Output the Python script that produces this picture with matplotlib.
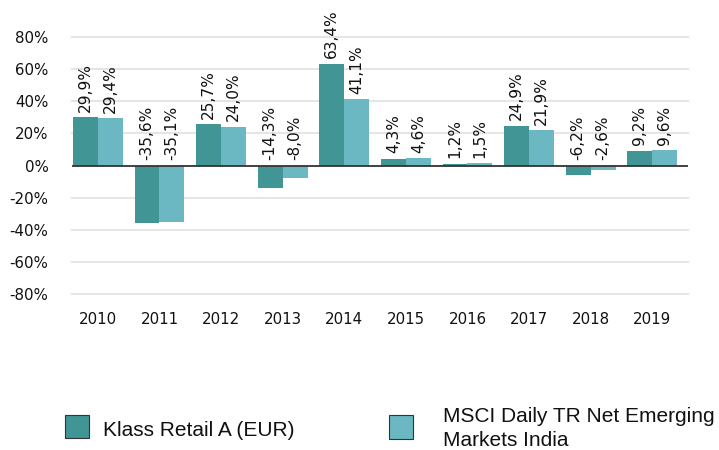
import matplotlib
matplotlib.use("Agg")
import matplotlib.pyplot as plt
from matplotlib.patches import Rectangle
import numpy as np

plt.rcParams["font.family"] = ["DejaVu Sans"]

years = ["2010", "2011", "2012", "2013", "2014", "2015", "2016", "2017", "2018", "2019"]
fund = [29.9, -35.6, 25.7, -14.3, 63.4, 4.3, 1.2, 24.9, -6.2, 9.2]
index = [29.4, -35.1, 24.0, -8.0, 41.1, 4.6, 1.5, 21.9, -2.6, 9.6]
series_names = ["Klass Retail A (EUR)", "MSCI Daily TR Net Emerging", "Markets India"]
colors = ["#429595", "#6bb8c2"]
yticks = [-80, -60, -40, -20, 0, 20, 40, 60, 80]

W, H = 719, 450
fig = plt.figure(figsize=(W / 100, H / 100), dpi=100)
ax = fig.add_axes([72 / W, 1 - 294 / H, 616 / W, (294 - 37) / H])

x = np.arange(len(years))
bw = 0.405
for vals, off, c in [(fund, -bw / 2, colors[0]), (index, bw / 2, colors[1])]:
    ax.bar(x + off, vals, width=bw, color=c, zorder=3)
    for xi, v in zip(x + off, vals):
        lab = f"{v:.1f}%".replace(".", ",")
        ax.annotate(lab, (xi, max(v, 0)), xytext=(0, 4.0), textcoords="offset points",
                    rotation=90, ha="center", va="bottom", fontsize=11.1,
                    color="#111111", annotation_clip=False)

ax.set_xlim(-0.42, 9.58)
ax.set_ylim(-80, 80)
ax.set_yticks(yticks)
ax.set_yticklabels([f"{t}%" for t in yticks])
ax.set_xticks(x)
ax.set_xticklabels(years)
ax.tick_params(axis="both", length=0, labelsize=10.8, colors="#111111")
ax.tick_params(axis="y", pad=17)
ax.tick_params(axis="x", pad=13)
for s in ax.spines.values():
    s.set_visible(False)
for t in yticks:
    if t != 0:
        ax.axhline(t, color="#e3e3e3", lw=1.3, zorder=1, clip_on=False)
ax.axhline(0, color="#333333", lw=1.3, zorder=4)

# Legend
leg_font = dict(family="Liberation Sans", fontsize=15, color="#111111", va="baseline", ha="left")
fig.patches.append(Rectangle((65 / W, 1 - 438 / H), 24 / W, 23 / H, transform=fig.transFigure,
                             facecolor=colors[0], edgecolor="#333333", lw=0.8))
fig.text(103 / W, 1 - 436 / H, series_names[0], **leg_font)
fig.patches.append(Rectangle((389 / W, 1 - 439 / H), 24 / W, 24 / H, transform=fig.transFigure,
                             facecolor=colors[1], edgecolor="#333333", lw=0.8))
fig.text(443 / W, 1 - 422 / H, series_names[1], **leg_font)
fig.text(443 / W, 1 - 446 / H, series_names[2], **leg_font)

fig.savefig("out.png", dpi=100)
